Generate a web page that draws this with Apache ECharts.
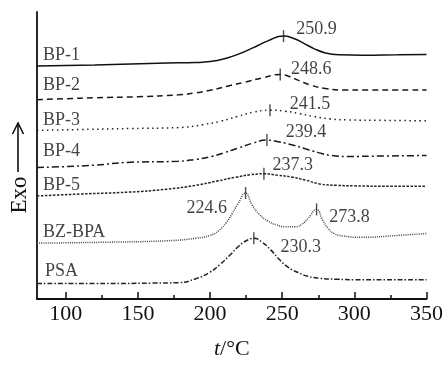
<!DOCTYPE html>
<html>
<head>
<meta charset="utf-8">
<script src="https://cdn.jsdelivr.net/npm/echarts@6/dist/echarts.min.js"></script>
<style>
  html, body { margin: 0; padding: 0; background: #fff; }
  #chart { width: 446px; height: 365px; }
</style>
</head>
<body>
<div id="chart"></div>
<script>
// DSC curves (temperature in °C, heat flow in arbitrary offset units)
const curveNames = ['BP-1', 'BP-2', 'BP-3', 'BP-4', 'BP-5', 'BZ-BPA', 'PSA'];

const bp1 = [[80,242],[100,242.5],[120,243],[145,244],[170,245],[190,245.5],[200,246.5],[210,249.5],[220,254.5],[230,261],[240,268],[250.9,273],[258,270.5],[265,265.5],[272,260],[280,255.5],[290,253.5],[305,253],[330,253.5],[350,254]];
const bp2 = [[80,207],[100,208],[120,209],[150,210],[178,212],[190,214],[201,217],[212,221],[224,225],[236,229.5],[248.6,233],[255,231],[262,226.5],[270,222],[280,218.5],[292,217],[310,217],[330,217],[350,217]];
const bp3 = [[80,175],[110,176],[145,177],[178,178],[195,181],[207,184.5],[219,189.5],[230,194],[241.5,196],[252,195],[262,192.5],[272,189.5],[283,187],[295,186],[320,185.5],[350,185]];
const bp4 = [[80,136.5],[100,137.5],[120,139],[145,142],[178,143],[190,145],[201,148],[210,152],[220,157],[230,162],[239.4,165],[248,163],[257,160],[266,156],[275,152],[284,149],[295,148],[320,148.5],[350,149]];
const bp5 = [[80,107],[110,109],[144,111],[170,114],[190,118],[205,122.5],[218,126.5],[228,129],[237.3,130],[247,128.5],[257,126.5],[266,123.5],[276,119.5],[288,118],[300,117.5],[325,117],[350,117]];
const bzbpa = [[80,58],[130,59],[170,60.5],[190,63],[200,66],[206,71],[211,79],[215,88],[219,98],[224.6,110],[229,98],[234,88],[240,81],[246,77],[252,75],[259,75],[264,78],[268,84],[273.8,93],[278,82],[282,73],[286,68],[292,65.5],[305,64],[330,66],[350,68]];
const psa = [[80,16],[120,16],[160,16.5],[178,17],[190,21],[200,28],[207,36],[214,46],[220,55],[225,60.5],[230.3,63],[236,59],[242,51],[248,41],[254,33],[261,27.5],[268,23.5],[276,21.5],[288,20.5],[300,20],[350,20]];

const curves = [bp1, bp2, bp3, bp4, bp5, bzbpa, psa];

// Peak temperatures marked on each curve
const peakTemps = [[250.9], [248.6], [241.5], [239.4], [237.3], [224.6, 273.8], [230.3]];

const xTicks = [100, 150, 200, 250, 300, 350];
const xMinorTicks = [125, 175, 225, 275, 325];

// Line dash patterns per curve
const dashes = [null, [6, 4], [1.5, 3.5], [7, 3, 2, 3], [2.5, 1.5], [1, 1.2], [5, 2, 1.5, 2]];
const lineColors = ['#111', '#181818', '#222', '#181818', '#222', '#444', '#222'];
// Curve name label placement (pixel offsets from curve start)
const nameOffsets = [[6,-11],[6,-14],[6,-10],[6,-16],[6,-11],[6,-11],[8,-12]];
// Peak value label placement (pixel offsets from marker)
const peakLabelOffsets = [[[12,-6.5]], [[10,-5]], [[19,-6]], [[18,-7.5]], [[8,-8.5]], [[-18,15],[12,8]], [[26,9]]];

const FONT = "'Liberation Serif', 'Times New Roman', serif";
const TEXT = '#111';

function valueAt(data, t) {
  const p = data.find(d => d[0] === t);
  return p ? p[1] : null;
}

const series = [];
curves.forEach((data, i) => {
  series.push({
    type: 'line',
    name: curveNames[i],
    data: data,
    smooth: 0.5,
    symbol: 'none',
    lineStyle: { color: lineColors[i], width: 1.5, type: dashes[i] || 'solid' },
    z: 2
  });
});

// Peak markers with value labels
const markerData = [];
peakTemps.forEach((temps, i) => {
  temps.forEach((t, k) => {
    const off = peakLabelOffsets[i][k];
    const left = off[0] < 0;
    markerData.push({
      value: [t, valueAt(curves[i], t)],
      label: {
        position: left ? 'left' : 'right',
        distance: 0,
        offset: off,
        formatter: String(t)
      }
    });
  });
});
series.push({
  type: 'scatter',
  data: markerData,
  symbol: 'rect',
  symbolSize: [1.4, 12],
  itemStyle: { color: '#222' },
  label: { show: true, fontFamily: FONT, fontSize: 18, color: TEXT },
  z: 3
});

// Curve names at the left end
series.push({
  type: 'scatter',
  data: curves.map((d, i) => ({
    value: d[0],
    label: { offset: nameOffsets[i], formatter: curveNames[i] }
  })),
  symbolSize: 0,
  label: { show: true, position: 'right', distance: 0, fontFamily: FONT, fontSize: 18, color: TEXT },
  z: 3
});

const chart = echarts.init(document.getElementById('chart'), null, { renderer: 'canvas' });
chart.setOption({
  animation: false,
  backgroundColor: '#fff',
  grid: { left: 37, right: 19, top: 12, bottom: 55 },
  xAxis: [{
    type: 'value',
    min: 80, max: 350,
    position: 'bottom',
    axisLine: { lineStyle: { color: '#111', width: 1.8 } },
    axisTick: { inside: true, length: 7, customValues: xTicks, lineStyle: { color: '#111', width: 1.5 } },
    axisLabel: { customValues: xTicks, fontFamily: FONT, fontSize: 22, color: TEXT, margin: 4 },
    splitLine: { show: false },
    name: '{i|t}/°C',
    nameLocation: 'middle',
    nameGap: 39,
    nameTextStyle: {
      fontFamily: FONT, fontSize: 22, color: TEXT,
      rich: { i: { fontFamily: FONT, fontSize: 22, fontStyle: 'italic', color: TEXT } }
    }
  }, {
    type: 'value',
    min: 80, max: 350,
    position: 'bottom',
    axisLine: { show: false },
    axisTick: { inside: true, length: 4, customValues: xMinorTicks, lineStyle: { color: '#111', width: 1.5 } },
    axisLabel: { show: false },
    splitLine: { show: false }
  }],
  yAxis: {
    type: 'value',
    min: 0, max: 298,
    axisLine: { show: true, lineStyle: { color: '#111', width: 1.8 } },
    axisTick: { show: false },
    axisLabel: { show: false },
    splitLine: { show: false }
  },
  graphic: [
    {
      type: 'text',
      x: 20, y: 195,
      rotation: Math.PI / 2,
      style: { text: 'Exo', fontFamily: FONT, fontSize: 23, fill: TEXT, align: 'center', verticalAlign: 'middle' }
    },
    {
      type: 'polyline',
      shape: { points: [[18, 172], [18, 124]] },
      style: { stroke: '#111', lineWidth: 1.6, fill: null }
    },
    {
      type: 'polyline',
      shape: { points: [[12.5, 134], [18, 123], [23.5, 134]] },
      style: { stroke: '#111', lineWidth: 1.6, fill: null }
    }
  ],
  series: series
});
</script>
</body>
</html>
